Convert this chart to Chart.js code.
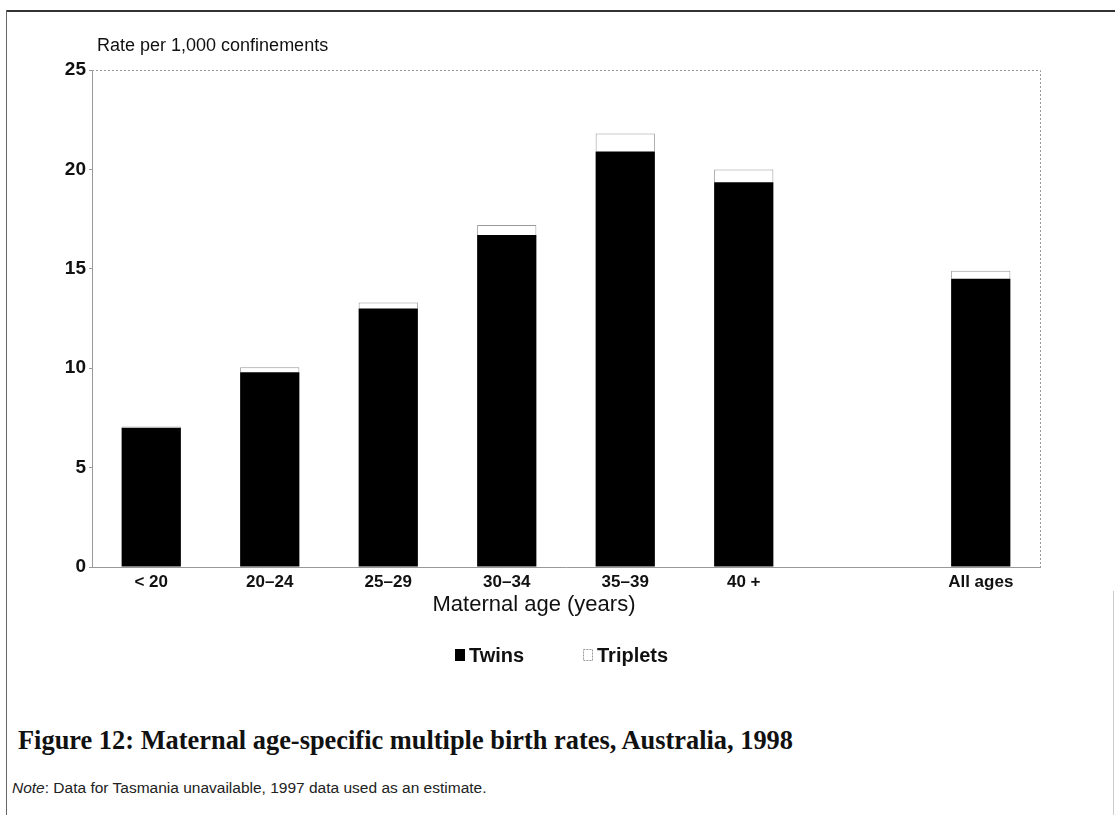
<!DOCTYPE html>
<html>
<head>
<meta charset="utf-8">
<script src="https://cdn.jsdelivr.net/npm/chart.js@4.4.1/dist/chart.umd.min.js"></script>
<style>
  html, body { margin: 0; padding: 0; background: #fff; }
  #sayfa { position: relative; width: 1115px; height: 815px; overflow: hidden; }
  #cerceve-ust { position: absolute; left: 6px; top: 10px; width: 1109px; height: 0; border-top: 2px solid #333; }
  #cerceve-sol { position: absolute; left: 6px; top: 10px; width: 0; height: 805px; border-left: 1px solid #666; }
  #cerceve-sag { position: absolute; left: 1113px; top: 591px; width: 0; height: 224px; border-left: 1px solid #ccc; }
  #kutu { position: absolute; left: 0; top: 0; width: 1115px; height: 690px; }
  #baslik {
    position: absolute; left: 18px; top: 725px;
    font-family: "Liberation Serif", serif; font-weight: bold; font-size: 26.4px; color: #111;
    white-space: nowrap;
  }
  #not {
    position: absolute; left: 12px; top: 779px;
    font-family: "Liberation Sans", Arial, sans-serif; font-size: 15.5px; color: #222;
    white-space: nowrap;
  }
</style>
</head>
<body>
<div id="sayfa">
  <div id="kutu"><canvas id="grafik"></canvas></div>
  <div id="cerceve-ust"></div>
  <div id="cerceve-sol"></div>
  <div id="cerceve-sag"></div>
  <div id="baslik">Figure 12: Maternal age-specific multiple birth rates, Australia, 1998</div>
  <div id="not"><i>Note</i>: Data for Tasmania unavailable, 1997 data used as an estimate.</div>
</div>
<script>
// ── VERI ──
const yaslar = ['< 20', '20–24', '25–29', '30–34', '35–39', '40 +', '', 'All ages']
const ikizler = [7.0, 9.8, 13.0, 16.7, 20.9, 19.35, null, 14.5]
const ucuzler = [0.07, 0.25, 0.3, 0.5, 0.9, 0.65, null, 0.4]
const yEksenDegerleri = [0, 5, 10, 15, 20, 25]

const yaziTipi = '"Liberation Sans", Arial, sans-serif'

// Eksen basliklari, ust/sag cerceve ve lejant
const suslemeler = {
  id: 'suslemeler',
  afterDraw(chart) {
    const { ctx, chartArea: a } = chart
    ctx.save()
    ctx.strokeStyle = '#999'
    ctx.lineWidth = 1
    ctx.setLineDash([2, 2])
    ctx.beginPath()
    ctx.moveTo(a.left, a.top + 0.5)
    ctx.lineTo(a.right + 0.5, a.top + 0.5)
    ctx.lineTo(a.right + 0.5, a.bottom)
    ctx.stroke()
    ctx.setLineDash([])

    ctx.fillStyle = '#111'
    ctx.textBaseline = 'middle'
    ctx.font = '18px ' + yaziTipi
    ctx.textAlign = 'left'
    ctx.fillText('Rate per 1,000 confinements', 97, 46)
    ctx.font = '22px ' + yaziTipi
    ctx.textAlign = 'center'
    ctx.fillText('Maternal age (years)', 534, 605)

    // lejant
    ctx.font = 'bold 20px ' + yaziTipi
    ctx.textAlign = 'left'
    ctx.fillStyle = '#000'
    ctx.fillRect(455, 649, 10, 12)
    ctx.fillStyle = '#111'
    ctx.fillText('Twins', 469, 656)
    ctx.strokeStyle = '#999'
    ctx.setLineDash([2, 1])
    ctx.strokeRect(583.5, 649.5, 9, 11)
    ctx.setLineDash([])
    ctx.fillText('Triplets', 597, 656)
    ctx.restore()
  }
}

new Chart(document.getElementById('grafik'), {
  type: 'bar',
  data: {
    labels: yaslar,
    datasets: [
      {
        label: 'Twins',
        data: ikizler,
        backgroundColor: '#000',
        borderWidth: 0
      },
      {
        label: 'Triplets',
        data: ucuzler,
        backgroundColor: '#fff',
        borderColor: '#999',
        borderWidth: 1
      }
    ]
  },
  options: {
    responsive: true,
    maintainAspectRatio: false,
    animation: false,
    categoryPercentage: 1,
    barPercentage: 0.5,
    layout: { padding: { left: 0, right: 75, top: 70, bottom: 83 } },
    plugins: {
      legend: { display: false },
      tooltip: { enabled: false }
    },
    scales: {
      x: {
        stacked: true,
        grid: { display: false, drawTicks: false },
        border: { display: true, color: '#999', dash: [2, 2] },
        ticks: {
          padding: 5,
          color: '#111',
          font: { family: yaziTipi, size: 17, weight: 'bold' }
        },
        afterFit(s) { s.height = 40 }
      },
      y: {
        stacked: true,
        min: 0,
        max: 25,
        afterBuildTicks(s) { s.ticks = yEksenDegerleri.map(v => ({ value: v })) },
        grid: { drawOnChartArea: false, tickLength: 3, color: '#999' },
        border: { display: true, color: '#999', dash: [2, 2] },
        ticks: {
          padding: 3,
          color: '#111',
          font: { family: yaziTipi, size: 19, weight: 'bold' }
        },
        afterFit(s) { s.width = 92 }
      }
    }
  },
  plugins: [suslemeler]
})
</script>
</body>
</html>
